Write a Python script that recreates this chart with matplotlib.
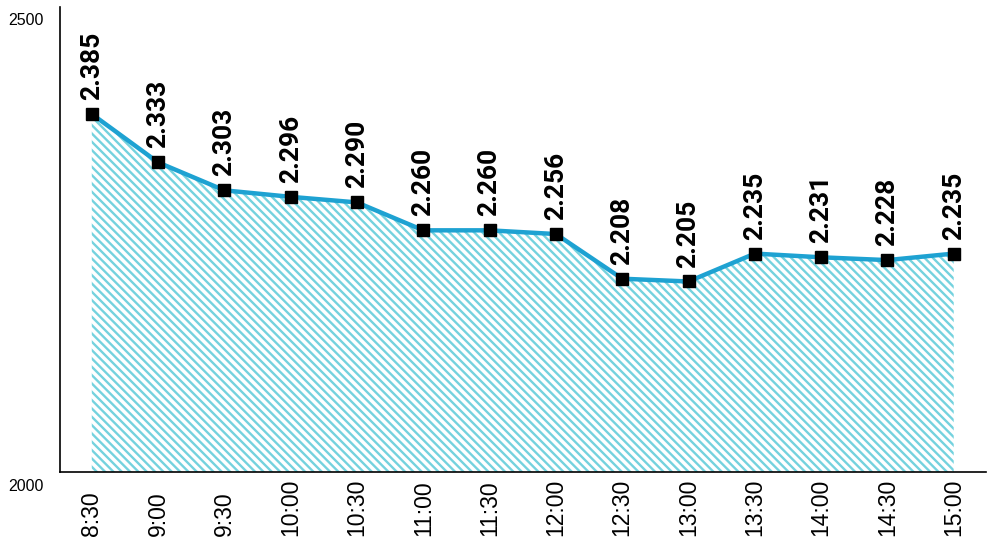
import matplotlib.pyplot as plt
import numpy as np

times = ["8:30", "9:00", "9:30", "10:00", "10:30", "11:00", "11:30", "12:00",
         "12:30", "13:00", "13:30", "14:00", "14:30", "15:00"]
values = [2385, 2333, 2303, 2296, 2290, 2260, 2260, 2256,
          2208, 2205, 2235, 2231, 2228, 2235]
labels = ["2.385", "2.333", "2.303", "2.296", "2.290", "2.260", "2.260", "2.256",
          "2.208", "2.205", "2.235", "2.231", "2.228", "2.235"]
yticks = [2000, 2500]

fig = plt.figure(figsize=(9.91, 5.44), dpi=100)
ax = fig.add_axes([0.0605, 0.132, 0.934, 0.855])

x = np.arange(len(times))
plt.rcParams['hatch.linewidth'] = 1.7
ax.fill_between(x, 2000, values, facecolor='none', edgecolor='#74d2de',
                hatch='\\\\\\\\', linewidth=0)
ax.plot(x, values, color='#1ea2d2', lw=3.2, zorder=3)
ax.plot(x, values, 's', color='black', ms=8, zorder=4)

for xi, v, lab in zip(x, values, labels):
    ax.text(xi, v + 15, lab, rotation=90, ha='center', va='bottom',
            fontsize=19, fontweight='bold', family=['Roboto'], color='black')

ax.set_xlim(-0.48, 13.48)
ax.set_ylim(2000, 2500)
ax.set_xticks(x)
ax.set_xticklabels(times, rotation=90, fontsize=16.5, va='bottom',
                   family=['Liberation Sans Narrow', 'Liberation Sans'])
ax.set_yticks(yticks)
ax.set_yticklabels([])
for v in yticks:
    ax.annotate(str(v), xy=(0, v), xycoords=('axes fraction', 'data'),
                xytext=(-12, -10), textcoords='offset points',
                ha='right', va='center', fontsize=11.5, family='Liberation Sans')
ax.tick_params(axis='x', length=0, pad=46)
ax.tick_params(axis='y', length=0)
ax.spines['top'].set_visible(False)
ax.spines['right'].set_visible(False)
ax.spines['left'].set_linewidth(1.2)
ax.spines['bottom'].set_linewidth(1.2)

fig.savefig("out.png", dpi=100)
